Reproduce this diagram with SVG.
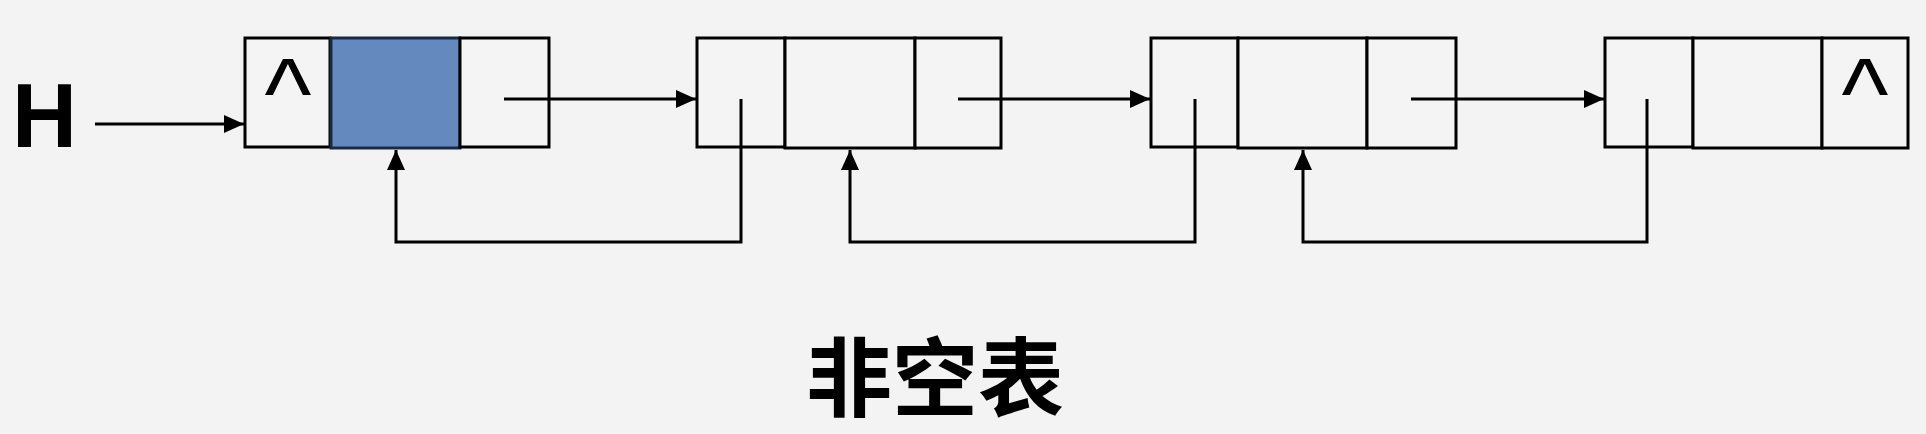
<svg xmlns="http://www.w3.org/2000/svg" width="1926" height="434" viewBox="0 0 1926 434">
<style>
.cell{fill:#F4F4F4;stroke:#000;stroke-width:3}
.blue{fill:#6489BE;stroke:#1a2a40;stroke-width:3}
.conn{fill:none;stroke:#000;stroke-width:3}
.caret{font-family:"Liberation Sans",Arial,sans-serif;font-size:100px;fill:#000;text-anchor:middle}
.h{font-family:"Liberation Sans",Arial,sans-serif;font-size:90px;font-weight:bold;fill:#000}
.title{font-family:"Noto Sans CJK SC","Liberation Sans",sans-serif;font-size:86px;font-weight:bold;fill:#000;text-anchor:middle}
</style>
<defs>
<marker id="arr" markerUnits="userSpaceOnUse" markerWidth="22" markerHeight="20" refX="20" refY="9" orient="auto">
<path d="M0,0 L20,9 L0,18 Z" fill="#000"/>
</marker>
</defs>
<rect width="1926" height="434" fill="#F3F3F3"/>
<text class="h" x="12" y="147">H</text>
<g id="node1">
<rect class="cell" x="245" y="38" width="85" height="109"/>
<rect class="blue" x="331" y="38" width="129" height="110"/>
<rect class="cell" x="460" y="38" width="89" height="109"/>
<text class="caret" x="288" y="128">^</text>
</g>
<g id="node2">
<rect class="cell" x="697" y="38" width="88" height="109"/>
<rect class="cell" x="785" y="38" width="130" height="110"/>
<rect class="cell" x="915" y="38" width="86" height="110"/>
</g>
<g id="node3">
<rect class="cell" x="1151" y="38" width="87" height="109"/>
<rect class="cell" x="1238" y="38" width="129" height="110"/>
<rect class="cell" x="1367" y="38" width="89" height="110"/>
</g>
<g id="node4">
<rect class="cell" x="1605" y="38" width="88" height="109"/>
<rect class="cell" x="1693" y="38" width="129" height="110"/>
<rect class="cell" x="1822" y="38" width="86" height="110"/>
<text class="caret" x="1865" y="128">^</text>
</g>
<g id="connectors">
<path class="conn" d="M95,124 H244" marker-end="url(#arr)"/>
<path class="conn" d="M504,99 H696" marker-end="url(#arr)"/>
<path class="conn" d="M958,99 H1150" marker-end="url(#arr)"/>
<path class="conn" d="M1411,99 H1604" marker-end="url(#arr)"/>
<path class="conn" d="M741,99 V242 H396 V150" marker-end="url(#arr)"/>
<path class="conn" d="M1195,99 V242 H850 V150" marker-end="url(#arr)"/>
<path class="conn" d="M1647,99 V242 H1303 V150" marker-end="url(#arr)"/>
</g>
<text class="title" x="935" y="410">非空表</text>
</svg>
